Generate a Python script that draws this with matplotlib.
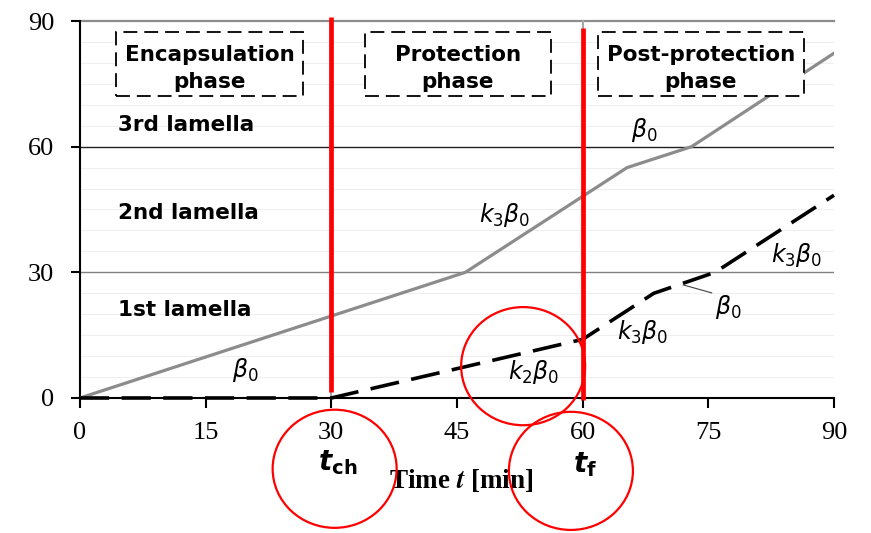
import matplotlib
matplotlib.use("Agg")
import matplotlib.pyplot as plt
from matplotlib.patches import Ellipse, Rectangle

plt.rcParams["lines.scale_dashes"] = False

# Charring-depth histories (time in min)
time_unprotected = [0, 46, 65.3, 73, 90]
depth_unprotected = [0, 30, 55, 60, 82.3]
time_protected = [0, 30, 60, 68.5, 75.8, 90]
depth_protected = [0, 0, 14, 25, 30, 48.4]

x_ticks = [0, 15, 30, 45, 60, 75, 90]
y_ticks = [0, 30, 60, 90]
t_ch, t_f = 30, 60

phase_names = ["Encapsulation\nphase", "Protection\nphase", "Post-protection\nphase"]
phase_x0 = [4.3, 34.0, 61.8]
phase_x1 = [26.6, 56.2, 86.4]
lamella_names = ["3rd lamella", "2nd lamella", "1st lamella"]
lamella_y = [65.2, 44.2, 21.0]

rate_labels = [r"$\beta_0$", r"$k_3\beta_0$", r"$\beta_0$", r"$k_3\beta_0$",
               r"$\beta_0$", r"$k_3\beta_0$", r"$k_2\beta_0$"]
rate_x = [19.7, 50.7, 67.4, 85.6, 77.4, 67.2, 54.1]
rate_y = [6.7, 43.7, 64.0, 34.1, 21.7, 15.8, 6.2]

fig = plt.figure(figsize=(8.71, 5.33), dpi=100)
ax = fig.add_axes([0.0918, 0.2533, 0.8657, 0.7073])
ax.set_xlim(0, 90)
ax.set_ylim(0, 90)

# faint minor grid and main lamella boundaries
for y in range(5, 90, 5):
    if y % 30:
        ax.axhline(y, color="#efefef", lw=0.8, zorder=0)
ax.axhline(30, color="#808080", lw=1.0, zorder=1)
ax.axhline(60, color="#202020", lw=1.0, zorder=1)
ax.axhline(90, color="#8c8c8c", lw=1.6, zorder=1, clip_on=False)
for xv in (t_ch, t_f):
    ax.axvline(xv, color="#a6a6a6", lw=1.5, zorder=1, clip_on=False)

for side in ("top", "right"):
    ax.spines[side].set_visible(False)
for side in ("left", "bottom"):
    ax.spines[side].set_linewidth(1.5)
    ax.spines[side].set_zorder(2)

ax.plot(time_unprotected, depth_unprotected, color="#8c8c8c", lw=2.3, zorder=3)
ax.plot(time_protected, depth_protected, color="black", lw=2.6,
        dashes=(21, 9), zorder=4, clip_on=False)

# phase boundaries
ax.plot([t_ch, t_ch], [1.5, 91], color="red", lw=3.4, zorder=5,
        clip_on=False, solid_capstyle="butt")
ax.plot([t_f, t_f], [-0.5, 88.3], color="red", lw=3.4, zorder=5,
        clip_on=False, solid_capstyle="butt")

for name, x0, x1 in zip(phase_names, phase_x0, phase_x1):
    ax.add_patch(Rectangle((x0, 72.1), x1 - x0, 15.3, facecolor="white",
                           edgecolor="black", lw=1.3, linestyle=(0, (10, 5)),
                           zorder=6))
    ax.text((x0 + x1) / 2, 78.6, name, ha="center", va="center",
            fontsize=15.5, fontweight="bold", family="DejaVu Sans",
            linespacing=1.45, zorder=7)

for name, y in zip(lamella_names, lamella_y):
    ax.text(4.5, y, name, ha="left", va="center", fontsize=15.5,
            fontweight="bold", family="DejaVu Sans", zorder=7)

for lbl, x, y in zip(rate_labels, rate_x, rate_y):
    ax.text(x, y, lbl, ha="center", va="center", fontsize=17,
            math_fontfamily="dejavusans", zorder=7)
ax.plot([72.0, 75.4], [27.0, 25.1], color="#404040", lw=0.8, zorder=7)

ax.set_xticks(x_ticks)
ax.set_yticks(y_ticks)
ax.tick_params(axis="x", direction="out", length=7, width=1.5, pad=10,
               labelsize=19)
ax.tick_params(axis="y", direction="out", length=6.5, width=1.5, pad=12,
               labelsize=19)
for lbl in ax.get_xticklabels() + ax.get_yticklabels():
    lbl.set_fontfamily("Liberation Serif")

ax.text(45.5, -19.6, r"Time $\mathbfit{t}$ [min]", ha="center", va="center",
        fontsize=19.5, fontweight="bold", family="Liberation Serif",
        math_fontfamily="stix", clip_on=False)
ax.text(30.8, -15.5, r"$\mathbfit{t}_{\mathbf{ch}}$", ha="center", va="center",
        fontsize=20, math_fontfamily="dejavusans", clip_on=False)
ax.text(60.3, -16.0, r"$\mathbfit{t}_{\mathbf{f}}$", ha="center", va="center",
        fontsize=20, math_fontfamily="dejavusans", clip_on=False)

# highlight circles
for cx, cy in [(30.4, -16.9), (52.9, 7.6), (58.6, -17.4)]:
    ax.add_patch(Ellipse((cx, cy), 14.8, 28.2, fill=False, edgecolor="red",
                         lw=1.6, zorder=8, clip_on=False))

fig.savefig("out.png", dpi=100)
